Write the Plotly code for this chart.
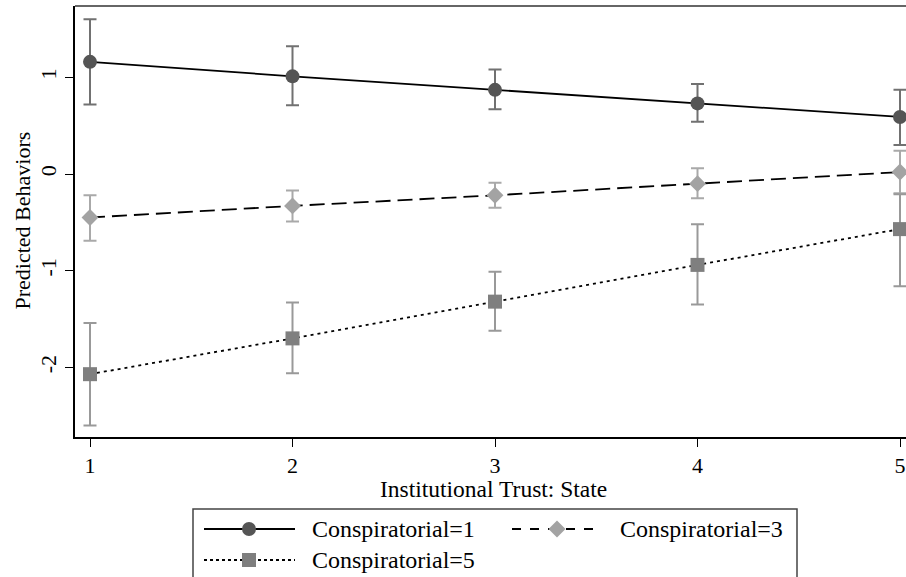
import plotly.graph_objects as go

# ---- data ----
trust = [1, 2, 3, 4, 5]
series_names = ["Conspiratorial=1", "Conspiratorial=3", "Conspiratorial=5"]
c1_est = [1.16, 1.01, 0.87, 0.73, 0.59]
c1_hi = [1.60, 1.32, 1.08, 0.93, 0.87]
c1_lo = [0.72, 0.71, 0.67, 0.54, 0.30]
c3_est = [-0.45, -0.33, -0.22, -0.10, 0.02]
c3_hi = [-0.22, -0.17, -0.09, 0.06, 0.24]
c3_lo = [-0.69, -0.49, -0.35, -0.25, -0.20]
c5_est = [-2.07, -1.70, -1.32, -0.94, -0.57]
c5_hi = [-1.54, -1.33, -1.01, -0.52, -0.21]
c5_lo = [-2.60, -2.06, -1.62, -1.35, -1.16]
y_ticks = [-2, -1, 0, 1]
x_ticks = [1, 2, 3, 4, 5]

W, H = 906, 577
FONT = "Liberation Serif, Times New Roman, serif"

def px(xp):
    return xp / W

def py(yp):
    return 1 - yp / H

styles = [
    dict(mcol="#555555", ecol="#717171", sym="circle", msize=14, dash="solid"),
    dict(mcol="#a3a3a3", ecol="#a9a9a9", sym="diamond", msize=13, dash="15px,7px"),
    dict(mcol="#7f7f7f", ecol="#999999", sym="square", msize=14, dash="3px,4px"),
]

fig = go.Figure()
for name, est, hi, lo, st in zip(series_names, [c1_est, c3_est, c5_est],
                                 [c1_hi, c3_hi, c5_hi], [c1_lo, c3_lo, c5_lo], styles):
    fig.add_trace(go.Scatter(
        x=trust, y=est, name=name, mode="lines+markers",
        line=dict(color="black", width=1.8, dash=st["dash"]),
        marker=dict(color=st["mcol"], symbol=st["sym"], size=st["msize"], line=dict(width=0)),
        error_y=dict(type="data", symmetric=False,
                     array=[h - e for h, e in zip(hi, est)],
                     arrayminus=[e - l for e, l in zip(est, lo)],
                     color=st["ecol"], thickness=2, width=6.5),
        showlegend=False, cliponaxis=False,
    ))

# plot area geometry (pixels)
L, T, B = 75, 6, 437
x_unit = 202.5
x_at1 = 90
y_unit = 96.7
y_at0 = 174

x_range = [1 - (x_at1 - L) / x_unit, 1 + (W - x_at1) / x_unit]
y_range = [0 - (B - y_at0) / y_unit, 0 + (y_at0 - T) / y_unit]

fig.update_layout(
    width=W, height=H,
    margin=dict(l=0, r=0, t=0, b=0),
    paper_bgcolor="white", plot_bgcolor="white",
    font=dict(family=FONT, size=22, color="black"),
    xaxis=dict(domain=[px(L), 1], range=x_range, tickvals=x_ticks,
               showgrid=False, zeroline=False, showline=True, linecolor="black", linewidth=1.8,
               ticks="outside", ticklen=8, tickwidth=1.3, tickcolor="black",
               tickfont=dict(family=FONT, size=22), automargin=False),
    yaxis=dict(domain=[py(B), py(T)], range=y_range, tickvals=y_ticks,
               ticktext=[str(v) for v in y_ticks], tickangle=-90,
               showgrid=False, zeroline=False, showline=True, linecolor="black", linewidth=1.8,
               ticks="outside", ticklen=8, tickwidth=1.3, tickcolor="black",
               tickfont=dict(family=FONT, size=22), automargin=False),
)

# top frame line
fig.add_shape(type="line", xref="paper", yref="paper", x0=px(L), x1=1, y0=py(T), y1=py(T),
              line=dict(color="#666666", width=2))

# axis titles
fig.add_annotation(text="Predicted Behaviors", xref="paper", yref="paper",
                   x=px(22), y=py(220.5), textangle=-90, showarrow=False,
                   font=dict(family=FONT, size=22), xanchor="center", yanchor="middle")
fig.add_annotation(text="Institutional Trust: State", xref="paper", yref="paper",
                   x=px(378), y=py(489), showarrow=False,
                   font=dict(family=FONT, size=23.5), xanchor="left", yanchor="middle")

# legend box (custom, drawn in paper coords)
fig.add_shape(type="rect", xref="paper", yref="paper", x0=px(193), x1=px(797), y0=py(509), y1=py(600),
              line=dict(color="#444444", width=1.5), fillcolor="white", layer="above")
leg_items = [
    (0, 204, 295, 249, 529, 310),
    (1, 512, 602, 557, 529, 618),
    (2, 204, 295, 249, 560, 310),
]
for idx, lx0, lx1, mx, ly, tx in leg_items:
    st = styles[idx]
    dash = {"solid": "solid", "15px,7px": "dash", "3px,4px": "dot"}[st["dash"]]
    fig.add_shape(type="line", xref="paper", yref="paper", x0=px(lx0), x1=px(lx1), y0=py(ly), y1=py(ly),
                  line=dict(color="black", width=1.8, dash=dash), layer="above")
    r = 7
    if st["sym"] == "circle":
        fig.add_shape(type="circle", xref="paper", yref="paper", x0=px(mx - r), x1=px(mx + r),
                      y0=py(ly + r), y1=py(ly - r), fillcolor=st["mcol"], line=dict(width=0), layer="above")
    elif st["sym"] == "square":
        fig.add_shape(type="rect", xref="paper", yref="paper", x0=px(mx - r), x1=px(mx + r),
                      y0=py(ly + r), y1=py(ly - r), fillcolor=st["mcol"], line=dict(width=0), layer="above")
    else:
        d = 8.5
        path = (f"M {px(mx - d)} {py(ly)} L {px(mx)} {py(ly - d)} L {px(mx + d)} {py(ly)} "
                f"L {px(mx)} {py(ly + d)} Z")
        fig.add_shape(type="path", xref="paper", yref="paper", path=path,
                      fillcolor=st["mcol"], line=dict(width=0), layer="above")
    fig.add_annotation(text=series_names[idx], xref="paper", yref="paper", x=px(tx), y=py(ly),
                       showarrow=False, xanchor="left", yanchor="middle",
                       font=dict(family=FONT, size=24))

fig.write_html("out.html", config={"displayModeBar": False},
               post_script="document.body.style.margin='0px';document.body.style.overflow='hidden';")
